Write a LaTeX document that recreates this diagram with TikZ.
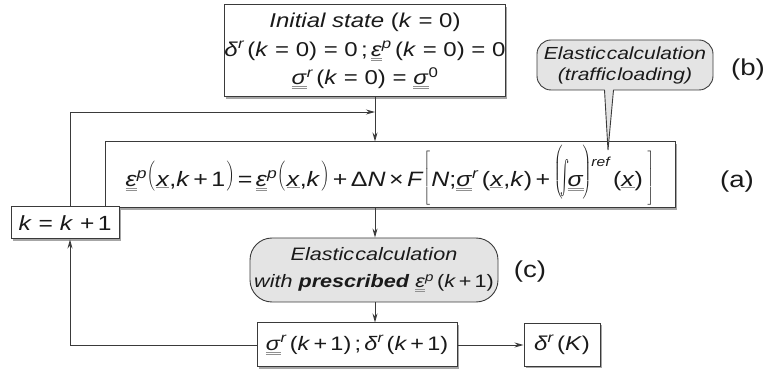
\documentclass[tikz,border=0pt]{standalone}
\usepackage{fontspec}
\setmainfont{Liberation Sans}[FakeStretch=1.2]
\usetikzlibrary{arrows.meta,shadows,calc}
\definecolor{ln}{HTML}{3A3A3A}
\definecolor{bub}{HTML}{E4E4E4}
\definecolor{tx}{HTML}{1A1A1A}
\definecolor{ul}{HTML}{909090}
\newcommand\I[1]{\textit{#1}}
\newcommand\dul[1]{{\color{ul}\underline{\underline{\color{tx}#1}}}}
\newcommand\sul[1]{{\color{ul}\underline{\color{tx}#1}}}
\newcommand\sps[1]{\textsuperscript{\itshape #1}}
\newcommand\DL[3]{\raisebox{#3}{$\left#1\vrule height \dimexpr#2+4.5pt\relax depth \dimexpr#2-4.5pt\relax width 0pt\right.$}}
\newcommand\DR[3]{\raisebox{#3}{$\left.\vrule height \dimexpr#2+4.5pt\relax depth \dimexpr#2-4.5pt\relax width 0pt\right#1$}}
\newcommand\bigint{\raisebox{-9pt}{\resizebox{9pt}{36pt}{$\int$}}}
\begin{document}
\begin{tikzpicture}[x=1pt,y=-1pt,
  box/.style={draw=ln, line width=1pt, fill=white, inner sep=0pt,
    drop shadow={shadow xshift=1.6pt, shadow yshift=-1.6pt, fill=gray!70, opacity=1}},
  bubble/.style={draw=ln, fill=bub, line width=0.9pt, inner sep=0pt, align=center},
  arr/.style={draw=ln, line width=0.9pt, -{Stealth[length=9pt,width=5pt]}},
  lab/.style={font=\fontsize{23}{26}\selectfont, text=tx}]
\useasboundingbox (0,0) rectangle (766,371);
\delimiterfactor=1000 \delimitershortfall=0pt
\coordinate (sp) at (375,0);
\coordinate (lx) at (70,0);
\coordinate (j) at (375,112);
\coordinate (tip) at (608,150);

\node[box, minimum width=266pt, minimum height=92pt, align=center, text=tx,
  font=\fontsize{20}{28.5}\selectfont] (init) at (365,51)
  {\I{Initial state} (\I{k} = 0)\\
   \I{δ}\sps{r}\,(\I{k} = 0) = 0\,;\,\dul{\I{ε}}\sps{p}\,(\I{k} = 0) = 0\\
   \dul{\I{σ}}\sps{r}\,(\I{k} = 0) = \dul{\I{σ}}\textsuperscript{0}};

\node[box, minimum width=570pt, minimum height=66pt, text=tx,
  font=\fontsize{20.8}{22}\selectfont] (main) at (390,175)
  {\dul{\I{ε}}\sps{p}\DL({14pt}{4.5pt}\sul{\I{x}},\I{k}\,+\,1\DR){14pt}{4.5pt}\,=\,\dul{\I{ε}}\sps{p}\DL({14pt}{4.5pt}\sul{\I{x}},\I{k}\DR){14pt}{4.5pt}\,+\,Δ\I{N}\,×\,\I{F}\DL[{25.5pt}{3pt}\I{N};\dul{\I{σ}}\sps{r}\,(\sul{\I{x}},\I{k})\,+\,\DL({23.5pt}{9pt}\kern-3pt\bigint\kern-2pt\dul{\I{σ}}\kern-2pt\DR){23.5pt}{9pt}\raisebox{20pt}{\fontsize{13}{13}\selectfont\itshape ref}\,(\sul{\I{x}})\,\DR]{25.5pt}{3pt}};

\node[bubble, rounded corners=14pt, minimum width=176pt, minimum height=50pt, text=tx,
  font=\fontsize{17.5}{21}\selectfont\itshape] (bub) at (625,65)
  {Elastic\hspace{1pt}calculation\\(traffic\hspace{1pt}loading)};
\fill[bub] (604.5,88) -- (tip) -- (613.5,88) -- cycle;
\draw[ln, line width=0.9pt, line join=miter] (604.5,90) -- (tip) -- (613.5,90);

\node[bubble, rounded corners=22pt, minimum width=248pt, minimum height=64pt, text=tx,
  font=\fontsize{18}{27}\selectfont] (calc) at (374,270)
  {\I{Elastic\hspace{1pt}calculation}\\
   \I{with} \textbf{\I{prescribed}}\ \dul{\I{ε}}\sps{p}\,(\I{k}\,+\,1)};

\node[box, minimum width=200pt, minimum height=44pt, text=tx,
  font=\fontsize{19.5}{24}\selectfont] (sig) at (357,345)
  {\dul{\I{σ}}\sps{r}\,(\I{k}\,+\,1)\,;\,\I{δ}\sps{r}\,(\I{k}\,+\,1)};

\node[box, minimum width=76pt, minimum height=43pt, text=tx,
  font=\fontsize{20}{24}\selectfont] (dK) at (562,345)
  {\I{δ}\sps{r}\,(\I{K})};

\node[box, minimum width=108pt, minimum height=32pt, text=tx,
  font=\fontsize{20.5}{24}\selectfont] (kb) at (65,223)
  {\I{k} = \I{k} +\,1};

\node[lab] (lb) at (748,70) {(b)};
\node[lab] (la) at (737,182) {(a)};
\node[lab] (lc) at (530,272) {(c)};

\draw[arr] (init.south -| sp) -- (main.north -| sp);
\draw[arr] (main.south -| sp) -- (calc.north -| sp);
\draw[arr] (calc.south -| sp) -- (sig.north -| sp);
\draw[arr] (sig.east) -- (dK.west);
\draw[arr] (sig.west) -| (kb.south -| lx);
\draw[arr] (kb.north -| lx) |- (j);
\end{tikzpicture}
\end{document}
